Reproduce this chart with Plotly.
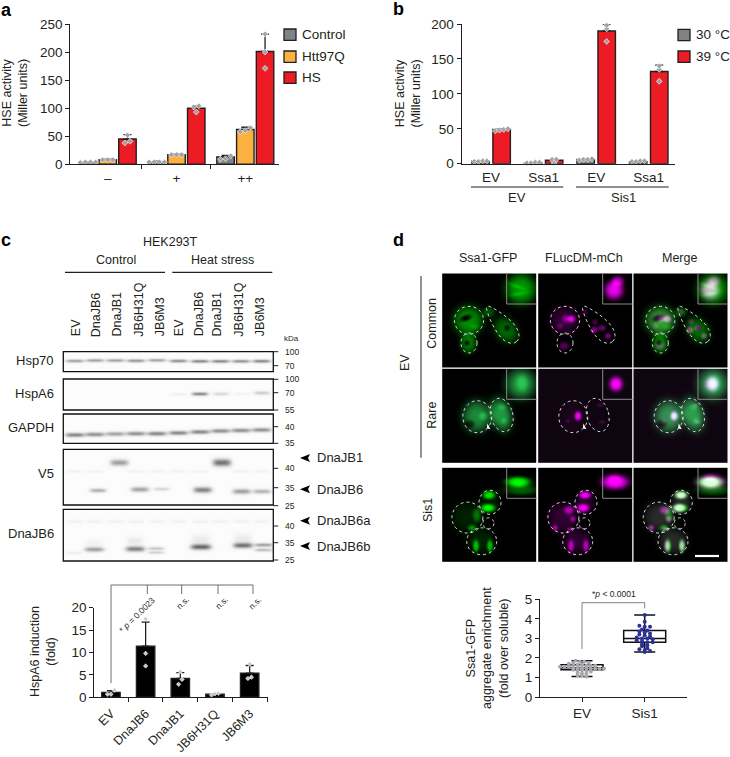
import numpy as np
import plotly.graph_objects as go

W, H = 730, 757
FONT = "Liberation Sans"
INK = "#231F20"
GRAY, ORANGE, RED = "#808285", "#FBB040", "#ED1C24"

# ---------- panel a ----------
A_GROUPS = ["–", "+", "++"]
A_CONTROL = [3.5, 4.5, 13]
A_HTT = [8, 17, 62]
A_HS = [45, 100, 201]
A_CONTROL_ERR = [1, 1, 3]
A_HTT_ERR = [1, 1, 4]
A_HS_ERR = [8, 4, 31]
A_CONTROL_PTS = [[3, 4, 4, 4], [4, 4, 4, 4], [15, 9, 10]]
A_HTT_PTS = [[8, 8, 8], [17, 17, 17], [65, 60, 58]]
A_HS_PTS = [[52, 38, 41], [102, 104, 93], [232, 200, 171]]

# ---------- panel b ----------
B_GROUPS = ["EV", "Ssa1", "EV", "Ssa1"]
B_30 = [3.5, 1.5, 6, 3]
B_39 = [49, 5, 190, 132]
B_30_ERR = [0.5, 0.5, 1, 0.5]
B_39_ERR = [1, 1.5, 10, 9]
B_30_PTS = [[3, 4, 4, 3], [1, 2, 2, 1], [5, 6, 7, 6], [3, 4, 4, 3]]
B_39_PTS = [[47, 49, 50, 48], [6, 6, 1], [198, 193, 175], [140, 135, 118]]

# ---------- panel c chart ----------
C_LABELS = ["EV", "DnaJB6", "DnaJB1", "JB6H31Q", "JB6M3"]
C_VALUES = [1.1, 11.4, 4.2, 0.7, 5.4]
C_ERR = [0.4, 5.4, 1.3, 0.1, 1.7]
C_PTS = [[1.6, 0.7, 0.7], [17.5, 9.8, 7], [5.7, 4, 2.9], [0.8, 0.9, 0.5], [7.4, 4.5, 4.2]]

# ---------- panel d chart ----------
D_LABELS = ["EV", "Sis1"]
D_Q1 = [1.4, 2.8]
D_MEDIAN = [1.5, 3.0]
D_Q3 = [1.65, 3.4]
D_LOW = [1.05, 2.3]
D_HIGH = [1.85, 4.2]
D_EV_PTS = [1.85, 1.8, 1.8, 1.75, 1.7, 1.7, 1.65, 1.65, 1.6, 1.6, 1.6, 1.55, 1.55, 1.55, 1.5, 1.5, 1.5, 1.5,
            1.45, 1.45, 1.45, 1.45, 1.4, 1.4, 1.4, 1.35, 1.3, 1.25, 1.2, 1.2, 1.1, 1.1, 1.05]
D_SIS_PTS = [4.2, 3.85, 3.65, 3.6, 3.6, 3.45, 3.4, 3.35, 3.3, 3.25, 3.2, 3.15, 3.1, 3.05, 3.0, 3.0, 2.95, 2.9, 2.85,
             2.8, 2.8, 2.7, 2.65, 2.6, 2.5, 2.45, 2.4, 2.35, 2.3]

# ---------- blots ----------
LANES = [74, 94, 114.5, 135, 156, 177.5, 199, 219.5, 240, 260.5]
LANE_LABELS = ["EV", "DnaJB6", "DnaJB1", "JB6H31Q", "JB6M3"] * 2
LANE_LABEL_X = [76, 96, 117.3, 139, 160, 179, 199, 217.3, 239, 260]
BOXES = {"Hsp70": (351.7, 371.7), "HspA6": (379, 410), "GAPDH": (414, 443.3),
         "V5": (449.3, 505), "DnaJB6": (509.3, 561)}
BOX_LABEL_Y = {"Hsp70": 360.7, "HspA6": 393.3, "GAPDH": 427.3, "V5": 473.3, "DnaJB6": 533.3}
KDA = [("100", 351.7), ("70", 365.7), ("100", 379.3), ("70", 392.7), ("55", 410), ("40", 426.7), ("35", 443.3),
       ("40", 468.3), ("35", 487.7), ("25", 505.7), ("40", 526), ("35", 542.7), ("25", 560)]
# (x, y, intensity, half-width, half-height)
BANDS = {
    "Hsp70": [(x, y, a, 9, 1.5) for x, y, a in zip(LANES, [360, 359.5, 359.5, 359.8, 359.3, 360, 360.3, 360.3, 360.3, 360.2],
                                                   [.42, .42, .42, .48, .42, .5, .55, .55, .5, .55])],
    "HspA6": [(178, 393.5, .06, 8, 1.4), (199, 393, .55, 8, 1.6), (220, 393, .18, 8, 1.5), (241.7, 393, .04, 8, 1.4),
              (261, 392, .22, 8, 1.7)],
    "GAPDH": [(x, y, a, 9.5, 2) for x, y, a in zip(LANES, [434, 433.5, 433, 432.7, 432.7, 432, 431, 430, 429.5, 429],
                                                   [.55, .5, .42, .5, .55, .55, .55, .5, .5, .5])],
    "V5": [(118.3, 461.7, .42, 9, 3), (221, 461.7, .62, 9, 3.5),
           (97, 489.5, .35, 8, 1.9), (139, 488.5, .4, 9, 2.4), (160.7, 488, .17, 8, 1.6), (201.7, 489, .55, 9, 2.8),
           (240.7, 490.5, .42, 9, 2.5), (261, 490.5, .33, 9, 2.1)]
          + [(x, 470.5, .05, 8, 1.2) for x in LANES if x not in (114.5, 219.5)],
    "DnaJB6": [(x, 521.5, .05, 8, 1.5) for x in LANES]
              + [(72.7, 553, .08, 8, 1.2), (93.3, 549.5, .42, 9.5, 2.3), (134.3, 549, .55, 9.5, 2.6), (155, 548.5, .25, 8, 1.5),
                 (155, 552.5, .2, 8, 1.4), (200, 547, .68, 10, 2.7), (242, 545.5, .62, 9.5, 2.6),
                 (262.7, 545, .42, 9, 1.7), (262.7, 550, .28, 9, 1.6),
                 (134, 541, .08, 8, 4), (200, 540, .08, 9, 5), (242, 539, .08, 9, 5), (93, 543, .05, 8, 3)],
}
ARROWS = [("DnaJB1", 458), ("DnaJB6", 489.3), ("DnaJB6a", 520.7), ("DnaJB6b", 546)]

# ---------- micrographs ----------
COLS = [(442.7, "Ssa1-GFP"), (538.7, "FLucDM-mCh"), (634, "Merge")]
ROWS = [274, 369.3, 468.3]
PANEL = 94
# (x, y, rx, ry, angle, taper)
CELLS = [
    [(26.3, 46.3, 14.6, 14, 0, 0), (26.3, 69, 8, 10, 0, 0), (59, 50, 23, 8.5, 50, .45)],
    [(34.6, 47.4, 14.5, 16, 0, 0), (59, 45.7, 11, 17, -15, 0)],
    [(24.7, 49.3, 15.5, 15.5, 0, 0), (47.3, 34, 11, 12, 0, 0), (45.7, 55, 5.5, 5.5, 0, 0), (39, 73, 15, 13.5, 0, 0)],
]
GREEN_TINT = [(0, 190, 0), (40, 190, 80), (0, 230, 0)]
# (x, y, rx, ry, amplitude, angle)
GREEN = [
    [(26.3, 46.3, 14.5, 14, .75, 0), (24, 44, 6, 3, -.7, -20), (33, 53, 5, 3, .2, 0), (26.3, 69, 8, 10, .6, 0), (25, 69, 2.5, 2.5, -.5, 0),
     (64, 56, 13.5, 10.5, .55, 50), (47, 38, 6, 5, .4, 0), (65, 54, 3, 3, -.4, 0),
     (79, 15, 15, 15, .8, 0), (74, 12, 10, 2, .2, 20), (76, 20, 10, 2, .2, -10)],
    [(34.6, 47.4, 14, 15.5, .72, 0), (41, 47, 4, 4, .3, 0), (28, 55, 5, 4, -.35, 0), (59, 45.7, 10.5, 16.5, .8, -15), (60, 38, 4, 3, .2, 0), (62, 52, 3, 3, .2, 0),
     (79, 15, 15, 15, .75, 0), (80, 14, 6, 8, .3, 0)],
    [(24.7, 49.3, 15, 15, .14, 0), (35, 47, 4, 7, .4, 0), (30, 60, 4, 3, .5, 0), (47, 27, 6, 4, .9, 0), (46, 40, 7, 4, 1, 0), (47.3, 34, 10, 11, .12, 0),
     (39, 73, 14, 13, .15, 0), (34, 78, 3, 6, .7, 0), (48, 78, 3, 6, .7, 0),
     (76, 14, 12, 5, 1.1, 0), (79, 22, 16, 5, .4, 0)],
]
MAGENTA = [
    [(26.3, 46.3, 14, 13.5, .22, 0), (33, 45, 4, 3.5, .8, 0), (27, 45, 3, 4, .35, 0), (22, 52, 3, 3, .25, 0), (26, 72, 5, 4, .35, 0),
     (56, 56, 3.5, 3.5, .55, 0), (64, 54, 4, 3, .45, 0), (70, 62, 3, 3, .5, 0), (47, 38, 3, 3, .25, 0), (57, 48, 3, 3, .3, 0),
     (76, 16, 9, 9, 1, 0), (80, 7, 6, 5, .6, 0)],
    [(34.6, 47.4, 13, 15, .05, 0), (40, 47, 3.5, 4.5, .9, 0), (30, 52, 2, 2, .2, 0), (62, 36, 3, 2, .2, 0), (64, 53, 3, 2, .2, 0),
     (78, 15, 6.5, 7, 1, 0)],
    [(24.7, 49.3, 14, 14, .22, 0), (31, 42, 5, 4, .6, 0), (35, 51, 3, 3, .5, 0), (17, 60, 3, 3, .6, 0), (32, 61, 3, 2, .4, 0),
     (47, 27, 6, 3.5, .9, 0), (45, 40, 6, 4, .9, 0), (47.3, 34, 9, 11, .2, 0),
     (39, 73, 14, 12, .2, 0), (33, 78, 3, 6, .65, 0), (48, 78, 3, 6, .65, 0),
     (77, 14, 13, 7, 1.1, 0), (76, 10, 6, 4, .2, 0)],
]
ROW_LABELS = [("Common", 431.7, 323), ("Rare", 431.7, 415), ("Sis1", 428, 510)]
BLUR_BG = [(0, 0, 0), (15, 5, 16), (0, 0, 0)]


def fx(px): return px / W
def fy(py): return 1 - py / H


def spread(groups, tol, step):
    xs, ys = [], []
    for g, vals in groups:
        vals = sorted(vals)
        cluster = [vals[0]]
        clusters = []
        for v in vals[1:]:
            if v - cluster[-1] < tol:
                cluster.append(v)
            else:
                clusters.append(cluster)
                cluster = [v]
        clusters.append(cluster)
        for c in clusters:
            n = len(c)
            for i, v in enumerate(c):
                xs.append(g + (i - (n - 1) / 2) * step)
                ys.append(v)
    return xs, ys


def swarm(center, vals, bin_size, step):
    b = {}
    for v in vals:
        b.setdefault(round(v / bin_size), []).append(v)
    xs, ys = [], []
    for k in b:
        n = len(b[k])
        for i, v in enumerate(b[k]):
            xs.append(center + (i - (n - 1) / 2) * step)
            ys.append(v)
    return xs, ys


fig = go.Figure()
shapes, notes = [], []


def text(x, y, s, size=12.5, anchor="center", vanchor="middle", angle=0, color=INK, bold=False):
    if bold:
        s = "<b>" + s + "</b>"
    notes.append(dict(x=fx(x), y=fy(y), xref="paper", yref="paper", text=s, showarrow=False, xanchor=anchor,
                      yanchor=vanchor, textangle=angle, font=dict(size=size, color=color, family=FONT), borderpad=0, borderwidth=0))


def line(x0, y0, x1, y1, color=INK, width=1.2):
    shapes.append(dict(type="line", xref="paper", yref="paper", x0=fx(x0), x1=fx(x1), y0=fy(y0), y1=fy(y1),
                       line=dict(color=color, width=width)))


def rect(x0, y0, x1, y1, fill=None, color=INK, width=1.3):
    shapes.append(dict(type="rect", xref="paper", yref="paper", x0=fx(x0), x1=fx(x1), y0=fy(y0), y1=fy(y1),
                       fillcolor=fill if fill else "rgba(0,0,0,0)", line=dict(color=color, width=width)))


def axis_common():
    return dict(showline=True, linecolor=INK, linewidth=1.3, ticks="outside", ticklen=4, tickwidth=1.2, tickcolor=INK,
                showgrid=False, zeroline=False, fixedrange=True, automargin=False,
                tickfont=dict(size=13.5, family=FONT, color=INK))


layout_axes = {}


def set_axes(n, xpx, ypx, xrange, yrange, xextra=None, yextra=None):
    sfx = "" if n == 1 else str(n)
    xa = axis_common(); ya = axis_common()
    xa.update(domain=[fx(xpx[0]), fx(xpx[1])], range=xrange, anchor="y" + sfx)
    ya.update(domain=[fy(ypx[0]), fy(ypx[1])], range=yrange, anchor="x" + sfx)
    xa.update(xextra or {}); ya.update(yextra or {})
    layout_axes["xaxis" + sfx] = xa
    layout_axes["yaxis" + sfx] = ya


POINT = dict(symbol="diamond", size=4.5, color="#A0A2A5", line=dict(color="white", width=0.6))


def bars(x, y, err, color, xa, ya, width, pts=None, tol=5, step=.07, marker=None):
    fig.add_trace(go.Bar(x=x, y=y, width=width, marker=dict(color=color, line=dict(color=INK, width=1.4)),
                         error_y=dict(type="data", symmetric=False, array=err, arrayminus=[0] * len(err), color=INK,
                                      thickness=1.3, width=4),
                         xaxis=xa, yaxis=ya, hoverinfo="skip"))
    px_, py_ = spread(list(zip(x, pts)), tol, step)
    fig.add_trace(go.Scatter(x=px_, y=py_, mode="markers", marker=marker or POINT, xaxis=xa, yaxis=ya,
                             hoverinfo="skip", cliponaxis=False))


# panel a
a_centers = list(range(3))
for off, vals, err, col, pts in [(-.287, A_CONTROL, A_CONTROL_ERR, GRAY, A_CONTROL_PTS),
                                 (0, A_HTT, A_HTT_ERR, ORANGE, A_HTT_PTS),
                                 (.287, A_HS, A_HS_ERR, RED, A_HS_PTS)]:
    bars([g + off for g in a_centers], vals, err, col, "x", "y", .254, pts, tol=8, step=.075)
set_axes(1, (70.3, 279.3), (164.3, 24), [-.544, 2.494], [0, 250],
         dict(tickmode="array", tickvals=a_centers, ticktext=A_GROUPS, tickcolor="rgba(0,0,0,0)", ticklen=1,
              minor=dict(tickmode="array", tickvals=[.494, 1.5], ticks="outside", ticklen=4, tickcolor=INK, tickwidth=1.2)),
         dict(tickvals=[0, 50, 100, 150, 200, 250]))
text(15, 93, "HSE activity<br>(Miller units)", 12.5, angle=-90)
for label, col, y in [("Control", GRAY, 34.7), ("Htt97Q", ORANGE, 56.7), ("HS", RED, 77.7)]:
    rect(284, y - 5.7, 296, y + 5.7, col)
    text(301.7, y, label, 13.5, "left")

# panel b
b_centers = list(range(4))
for off, vals, err, col, pts in [(-.2, B_30, B_30_ERR, GRAY, B_30_PTS), (.2, B_39, B_39_ERR, RED, B_39_PTS)]:
    bars([g + off for g in b_centers], vals, err, col, "x2", "y2", .333, pts, tol=4, step=.08)
set_axes(2, (461.7, 675), (163.7, 24), [-.56, 3.5], [0, 200],
         dict(tickmode="array", tickvals=b_centers, ticktext=B_GROUPS, tickcolor="rgba(0,0,0,0)", ticklen=1),
         dict(tickvals=[0, 50, 100, 150, 200]))
text(407.5, 94, "HSE activity<br>(Miller units)", 12.5, angle=-90)
line(471, 187, 563.3, 187)
line(576, 187, 668.7, 187)
text(517, 197, "EV", 13)
text(623, 197, "Sis1", 13)
for label, col, y in [("30 °C", GRAY, 35), ("39 °C", RED, 56.7)]:
    rect(678, y - 5.7, 690, y + 5.7, col)
    text(695.7, y, label, 13.5, "left")

# panel c chart
c_x = list(range(5))
bars(c_x, C_VALUES, C_ERR, "black", "x3", "y3", .53, C_PTS, tol=1.2, step=.1,
     marker=dict(symbol="diamond", size=3.5, color="#C8C8C8", line=dict(color="white", width=0.5)))
set_axes(3, (94.3, 267.7), (697.3, 607.7), [-.48, 4.52], [0, 20],
         dict(tickmode="array", tickvals=[], ticktext=[], ticks="",
              minor=dict(tickmode="array", tickvals=[.5, 1.5, 2.5, 3.5, 4.5], ticks="outside", ticklen=4, tickcolor=INK, tickwidth=1.2)),
         dict(tickvals=[0, 5, 10, 15, 20]))
layout_axes["xaxis3"].update(tickmode="array", tickvals=c_x, ticktext=C_LABELS, tickangle=-45, ticks="outside",
                             tickcolor="rgba(0,0,0,0)", ticklen=3, tickfont=dict(size=12.5, family=FONT, color=INK))
text(43, 652, "HspA6 induction<br>(fold)", 12.5, angle=-90)
line(111, 585, 253, 585, "#6D6E71", 1)
line(111, 585, 111, 683, "#6D6E71", 1)
for x, y1 in [(147.3, 594), (181.7, 594), (218, 594), (253, 594)]:
    line(x, 585, x, y1, "#6D6E71", 1)
text(137, 615, "* <i>p</i> = 0.0023", 8.5, angle=-45)
for x in [182.7, 221.7, 255]:
    text(x, 603, "n.s.", 8.5, angle=-45)

# panel d chart
for i, (col, step) in enumerate([("#A7A9AC", .07), ("#2E3192", .085)]):
    px_, py_ = swarm(i, [D_EV_PTS, D_SIS_PTS][i], .15, step)
    fig.add_trace(go.Scatter(x=px_, y=py_, mode="markers", xaxis="x4", yaxis="y4", hoverinfo="skip",
                             marker=dict(size=4, color=col)))
for i in range(2):
    fig.add_trace(go.Box(x=[i], q1=[D_Q1[i]], median=[D_MEDIAN[i]], q3=[D_Q3[i]], lowerfence=[D_LOW[i]], upperfence=[D_HIGH[i]],
                         width=.67, whiskerwidth=.5, line=dict(color="#101018", width=1.5), fillcolor="rgba(0,0,0,0)",
                         boxpoints=False, xaxis="x4", yaxis="y4", hoverinfo="skip"))
set_axes(4, (540, 686.7), (697, 599.3), [-.67, 1.67], [0, 5],
         dict(tickmode="array", tickvals=[0, 1], ticktext=D_LABELS, ticklen=4),
         dict(tickvals=[0, 1, 2, 3, 4, 5]))
text(487, 648, "Ssa1-GFP<br>aggregate enrichment<br>(fold over soluble)", 12.5, angle=-90)
line(582, 649, 582, 602.7, "#808285", 1)
line(582, 602.7, 644.7, 602.7, "#808285", 1)
line(644.7, 602.7, 644.7, 608.3, "#808285", 1)
text(614, 594, "*<i>p</i> < 0.0001", 8.5)

# overlay pixel axes for blots and micrographs
OV = "5"
layout_axes["xaxis5"] = dict(domain=[0, 1], range=[0, W], visible=False, fixedrange=True, anchor="y5", automargin=False)
layout_axes["yaxis5"] = dict(domain=[0, 1], range=[H, 0], visible=False, fixedrange=True, anchor="x5", automargin=False)

# blots
x0, x1 = 63.3, 273.3
for name, (y0, y1) in BOXES.items():
    xs = np.arange(x0, x1 + 1, 1.0)
    ys = np.arange(y0, y1 + .5, 1.0)
    X, Y = np.meshgrid(xs, ys)
    Z = np.full(X.shape, .015)
    for cx, cy, a, hw, hh in BANDS[name]:
        Z += a * np.exp(-((X - cx) / hw) ** 4) * np.exp(-((Y - cy) / hh) ** 2)
    fig.add_trace(go.Heatmap(x=xs, y=ys, z=np.clip(Z, 0, 1).round(3).tolist(), zmin=0, zmax=1, showscale=False,
                             colorscale=[[0, "#FFFFFF"], [1, "#222222"]], zsmooth="best", hoverinfo="skip",
                             xaxis="x" + OV, yaxis="y" + OV))
    rect(x0, y0, x1, y1, None, "#111111", 1.3)
    text(54, BOX_LABEL_Y[name], name, 13, "right")
for lab, y in KDA:
    line(273.3, y, 278.3, y, INK, 1)
    text(285, y, lab, 8.5, "left")
text(283.7, 338, "kDa", 8, "left")
text(170.7, 241.7, "HEK293T", 12.5)
text(116, 260, "Control", 12.5)
text(222, 260, "Heat stress", 12.5)
line(65, 272.3, 165, 272.3)
line(172.3, 272.3, 272.3, 272.3)
for x, lab in zip(LANE_LABEL_X, LANE_LABELS):
    text(x, 336.7, lab, 12.5, "center", "bottom", angle=-90)
for lab, y in ARROWS:
    shapes.append(dict(type="path", xref="paper", yref="paper", fillcolor="black", line=dict(width=0),
                       path=f"M {fx(300)} {fy(y)} L {fx(310)} {fy(y - 4)} L {fx(308)} {fy(y)} L {fx(310)} {fy(y + 4)} Z"))
    text(317.3, y, lab, 13, "left")


def paint(blobs, tint, img, XX, YY):
    for cx, cy, rx, ry, a, ang in blobs:
        t = np.radians(ang)
        u = (XX - cx) * np.cos(t) + (YY - cy) * np.sin(t)
        v = -(XX - cx) * np.sin(t) + (YY - cy) * np.cos(t)
        g = a * np.exp(-((u / rx) ** 2 + (v / ry) ** 2) ** 1.6)
        for c in range(3):
            img[..., c] += g * tint[c]


XX, YY = np.meshgrid(np.arange(PANEL) + .5, np.arange(PANEL) + .5)
for r, top in enumerate(ROWS):
    for c, (left, header) in enumerate(COLS):
        img = np.zeros((PANEL, PANEL, 3))
        if (r == 1 and c > 0):
            img += np.array(BLUR_BG[1], float)
        tmp = np.zeros_like(img)
        if c in (0, 2):
            paint(GREEN[r], GREEN_TINT[r], tmp, XX, YY)
        if c in (1, 2):
            paint(MAGENTA[r], (235, 0, 235) if c == 1 else (200, 45, 200), tmp, XX, YY)
        img = np.clip(img + tmp, 0, 255)
        fig.add_trace(go.Image(z=img.astype(np.uint8).tolist(), colormodel="rgb", x0=left, y0=top, dx=1, dy=1,
                               xaxis="x" + OV, yaxis="y" + OV, hoverinfo="skip"))
        shapes.append(dict(type="path", xref="paper", yref="paper", fillcolor="rgba(0,0,0,0)",
                           line=dict(color="#8A8A8A", width=1),
                           path=f"M {fx(left + 64)} {fy(top)} L {fx(left + 64)} {fy(top + 30)} L {fx(left + PANEL)} {fy(top + 30)}"))
        for cx, cy, rx, ry, ang, taper in CELLS[r]:
            t = np.radians(np.arange(0, 361, 10))
            a = np.radians(ang)
            bx = rx * np.cos(t)
            by = ry * np.sin(t) * (1 + taper * np.cos(t))
            ex = left + cx + bx * np.cos(a) - by * np.sin(a)
            ey = top + cy + bx * np.sin(a) + by * np.cos(a)
            p = "M " + " L ".join(f"{fx(u):.5f} {fy(v):.5f}" for u, v in zip(ex, ey)) + " Z"
            shapes.append(dict(type="path", xref="paper", yref="paper", path=p, line=dict(color="#D9D9D9", width=1, dash="dot")))
        if r == 1:
            ax_, ay_ = left + 44.7, top + 54
            shapes.append(dict(type="path", xref="paper", yref="paper", fillcolor="white", line=dict(width=0),
                               path=f"M {fx(ax_)} {fy(ay_)} L {fx(ax_ + 3)} {fy(ay_ + 6)} L {fx(ax_ - 0.5)} {fy(ay_ + 5)} Z"))
for left, header in COLS:
    text(left + 45, 258.3, header, 12.5)
for lab, x, y in ROW_LABELS:
    text(x, y, lab, 12.5, angle=-90)
text(405, 363, "EV", 12.5, angle=-90)
line(421, 276, 421, 457.7, "#58595B", 1.3)
line(695, 556, 719, 556, "white", 2.2)

# panel letters
for s, x, y in [("a", 1, 10), ("b", 393, 9), ("c", 1, 240), ("d", 393, 240)]:
    text(x, y, s, 18, "left", bold=True, color="black")

fig.update_layout(width=W, height=H, margin=dict(l=0, r=0, t=0, b=0, autoexpand=False), paper_bgcolor="white",
                  plot_bgcolor="rgba(0,0,0,0)", showlegend=False, barmode="overlay", shapes=shapes, annotations=notes,
                  font=dict(family=FONT), **layout_axes)
fig.write_html("out.html", config=dict(displayModeBar=False), post_script="document.body.style.margin='0';")
